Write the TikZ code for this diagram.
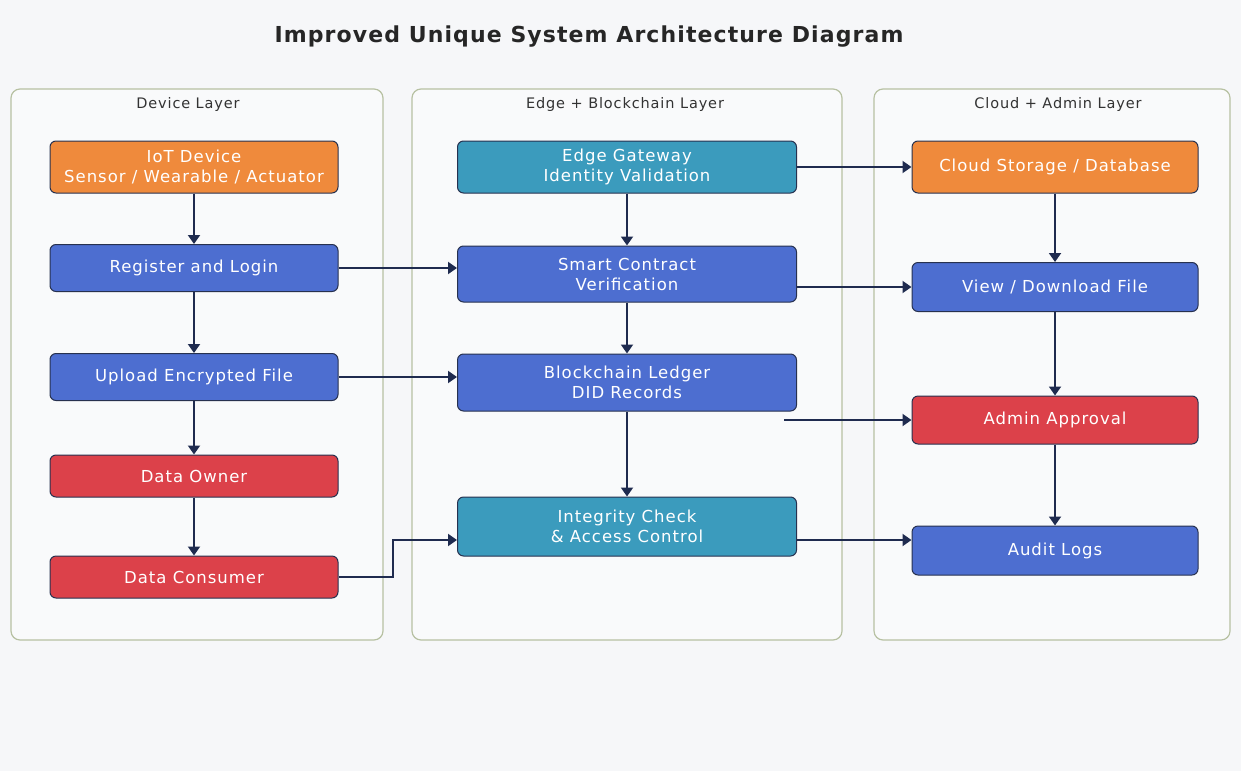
\documentclass[tikz,border=0pt]{standalone}
\usepackage{fontspec}
\usetikzlibrary{arrows.meta}
\newfontfamily\boxfont[LetterSpace=6]{DejaVu Sans}
\newfontfamily\headfont[LetterSpace=5]{DejaVu Sans}

\definecolor{pagebg}{HTML}{F6F7F9}
\definecolor{panelbg}{HTML}{F9FAFB}
\definecolor{panelline}{HTML}{B7C1A2}
\definecolor{orangebox}{HTML}{EF8A3C}
\definecolor{bluebox}{HTML}{4D6ED0}
\definecolor{redbox}{HTML}{DC414A}
\definecolor{tealbox}{HTML}{3B9BBD}
\definecolor{boxedge}{HTML}{27314F}
\definecolor{flow}{HTML}{1F2B4F}
\definecolor{labeltext}{HTML}{333333}

\tikzset{
  x=1pt, y=-1pt,
  layer/.style={draw=panelline, line width=1.2pt, fill=panelbg, rounded corners=9pt},
  layertitle/.style={font=\boxfont\fontsize{14.5}{17}\selectfont, text=labeltext},
  box/.style={draw=boxedge, line width=1pt, rounded corners=6pt, text=white,
    align=center, inner sep=0pt, font=\boxfont\fontsize{16.5}{20}\selectfont},
  sz/.style 2 args={minimum width=#1, minimum height=#2},
  orangestep/.style={box, fill=orangebox},
  bluestep/.style={box, fill=bluebox},
  redstep/.style={box, fill=redbox},
  tealstep/.style={box, fill=tealbox},
  arr/.style={draw=flow, line width=1.9pt, -{Triangle[length=9pt,width=12pt]}},
}

\begin{document}
\begin{tikzpicture}
  % page
  \fill[pagebg] (0,0) rectangle (1241,771);
  \useasboundingbox (0,0) rectangle (1241,771);

  % title
  \node[font=\headfont\bfseries\fontsize{22}{26}\selectfont, text=black!85] (title) at (589,37)
    {Improved Unique System Architecture Diagram};

  % layer panels
  \draw[layer] (11,89) rectangle (383,640);
  \draw[layer] (412,89) rectangle (842,640);
  \draw[layer] (874,89) rectangle (1230,640);
  \node[layertitle] (devtitle) at (188,104) {Device Layer};
  \node[layertitle] (edgetitle) at (625,104) {Edge + Blockchain Layer};
  \node[layertitle] (cloudtitle) at (1058,104) {Cloud + Admin Layer};

  % device layer
  \node[orangestep, sz={288pt}{52pt}] (iot) at (194,167) {IoT Device\\Sensor / Wearable / Actuator};
  \node[bluestep, sz={288pt}{47pt}] (reg) at (194,268) {Register and Login};
  \node[bluestep, sz={288pt}{47pt}] (up) at (194,377) {Upload Encrypted File};
  \node[redstep, sz={288pt}{42pt}] (own) at (194,476) {Data Owner};
  \node[redstep, sz={288pt}{42pt}] (cons) at (194,577) {Data Consumer};

  % edge + blockchain layer
  \node[tealstep, sz={339pt}{52pt}] (gw) at (627,167) {Edge Gateway\\Identity Validation};
  \node[bluestep, sz={339pt}{56pt}] (sc) at (627,274) {Smart Contract\\Verification};
  \node[bluestep, sz={339pt}{57pt}] (bc) at (627,382.5) {Blockchain Ledger\\DID Records};
  \node[tealstep, sz={339pt}{59pt}] (ic) at (627,526.5) {Integrity Check\\\& Access Control};

  % cloud + admin layer
  \node[orangestep, sz={286pt}{52pt}] (cs) at (1055,167) {Cloud Storage / Database};
  \node[bluestep, sz={286pt}{49pt}] (vd) at (1055,287) {View / Download File};
  \node[redstep, sz={286pt}{48pt}] (adm) at (1055,420) {Admin Approval};
  \node[bluestep, sz={286pt}{49pt}] (aud) at (1055,550.5) {Audit Logs};

  % vertical flows
  \draw[arr] (iot) -- (reg);
  \draw[arr] (reg) -- (up);
  \draw[arr] (up) -- (own);
  \draw[arr] (own) -- (cons);
  \draw[arr] (gw) -- (sc);
  \draw[arr] (sc) -- (bc);
  \draw[arr] (bc) -- (ic);
  \draw[arr] (cs) -- (vd);
  \draw[arr] (vd) -- (adm);
  \draw[arr] (adm) -- (aud);

  % cross-layer flows
  \draw[arr] (reg.east) -- (sc.west |- reg.east);
  \draw[arr] (up.east) -- (bc.west |- up.east);
  \draw[arr] (cons.east) -| (393,540) -- (ic.west |- 0,540);
  \draw[arr] (gw.east) -- (cs.west);
  \draw[arr] (sc.east |- vd.west) -- (vd.west);
  \coordinate (admfeed) at (784,420);
  \draw[arr] (admfeed) -- (adm.west);
  \draw[arr] (ic.east |- 0,540) -- (aud.west |- 0,540);
\end{tikzpicture}
\end{document}
